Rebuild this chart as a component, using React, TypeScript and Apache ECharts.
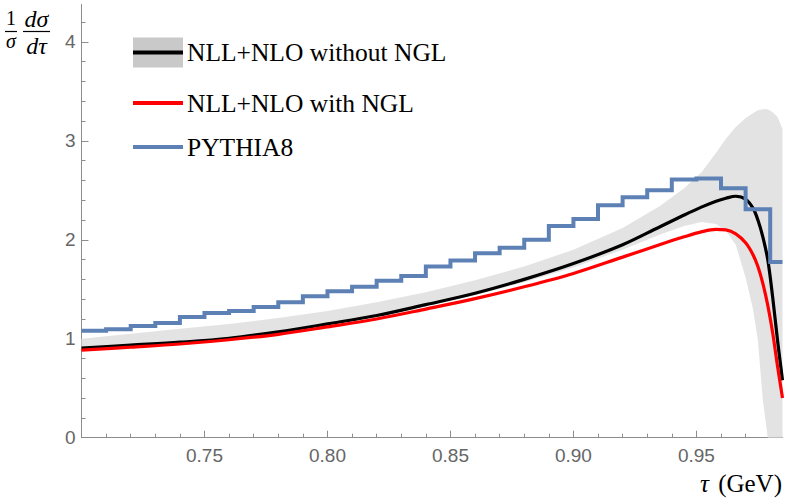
import React, { useEffect, useRef } from 'react';
import * as echarts from 'echarts';

// tau grid for the theory curves and the uncertainty band
const tau = [
  0.70, 0.72, 0.74, 0.76, 0.78, 0.80, 0.82, 0.84, 0.86, 0.88, 0.90, 0.92, 0.935,
  0.945, 0.952, 0.958, 0.962, 0.966, 0.970, 0.973, 0.975, 0.977, 0.979, 0.981, 0.983, 0.985,
];
// NLL+NLO without NGL (central, black)
const withoutNgl = [
  0.905, 0.935, 0.965, 1.005, 1.07, 1.15, 1.235, 1.345, 1.46, 1.60, 1.76, 1.95, 2.13,
  2.25, 2.33, 2.39, 2.42, 2.44, 2.41, 2.32, 2.20, 2.03, 1.80, 1.42, 0.98, 0.58,
];
// NLL+NLO with NGL (red)
const withNgl = [
  0.885, 0.915, 0.947, 0.99, 1.045, 1.12, 1.20, 1.30, 1.405, 1.525, 1.66, 1.825, 1.95,
  2.03, 2.08, 2.105, 2.10, 2.06, 1.97, 1.85, 1.73, 1.56, 1.34, 1.06, 0.72, 0.40,
];
// uncertainty band of NLL+NLO without NGL
const bandUpper = [
  1.00, 1.05, 1.10, 1.15, 1.21, 1.28, 1.37, 1.47, 1.59, 1.73, 1.90, 2.12, 2.34,
  2.52, 2.68, 2.88, 3.02, 3.14, 3.23, 3.28, 3.31, 3.32, 3.32, 3.29, 3.24, 3.12,
];
const bandLower = [
  0.89, 0.92, 0.955, 0.995, 1.06, 1.14, 1.22, 1.33, 1.44, 1.57, 1.72, 1.90, 2.05,
  2.14, 2.18, 2.16, 2.09, 1.95, 1.62, 1.30, 0.98, 0.38, 0, 0, 0, 0,
];
// PYTHIA8 histogram: bin starts and heights
const pythiaBinStart = [
  0.70, 0.71, 0.72, 0.73, 0.74, 0.75, 0.76, 0.77, 0.78, 0.79, 0.80, 0.81, 0.82, 0.83,
  0.84, 0.85, 0.86, 0.87, 0.88, 0.89, 0.90, 0.91, 0.92, 0.93, 0.94, 0.95, 0.96, 0.97, 0.98,
];
const pythiaValue = [
  1.08, 1.095, 1.13, 1.16, 1.22, 1.26, 1.28, 1.32, 1.37, 1.43, 1.48, 1.525, 1.585, 1.635,
  1.73, 1.79, 1.865, 1.92, 2.00, 2.14, 2.21, 2.35, 2.43, 2.50, 2.61, 2.62, 2.52, 2.31, 1.775,
];

const X_MIN = 0.70;
const X_MAX = 0.985;
const Y_MIN = 0;
const Y_MAX = 4.38;
const xTickValues = [0.70, 0.75, 0.80, 0.85, 0.90, 0.95];
const xLabelValues = [0.75, 0.80, 0.85, 0.90, 0.95];
const yTickValues = [0, 1, 2, 3, 4];
const legendLabels = ['NLL+NLO without NGL', 'NLL+NLO with NGL', 'PYTHIA8'];

const AXIS_COLOR = '#8c8c8c';
const LABEL_COLOR = '#666666';
const SERIF_FAMILY = '"Liberation Serif", "DejaVu Serif", serif';
const SERIF = SERIF_FAMILY;

export default function App() {
  const ref = useRef<HTMLDivElement>(null);

  useEffect(() => {
    if (!ref.current) return;
    const chart = echarts.init(ref.current, undefined, { renderer: 'svg' });

    const blackData = tau.map((t, i) => [t, withoutNgl[i]]);
    const redData = tau.map((t, i) => [t, withNgl[i]]);
    const histData = pythiaBinStart
      .map((t, i) => [t, pythiaValue[i]])
      .concat([[X_MAX, pythiaValue[pythiaValue.length - 1]]]);

    const option: any = {
      animation: false,
      backgroundColor: '#ffffff',
      grid: {
        left: 81.5,
        right: 2.5,
        top: 4.3,
        bottom: 66.3,
        containLabel: false,
        outerBoundsMode: 'none',
      },
      xAxis: {
        type: 'value',
        min: X_MIN,
        max: X_MAX,
        interval: 0.05,
        axisLine: { show: true, lineStyle: { color: AXIS_COLOR, width: 1 } },
        axisTick: {
          show: true,
          inside: true,
          length: 7,
          customValues: xTickValues,
          lineStyle: { color: AXIS_COLOR, width: 1 },
        },
        minorTick: { show: true, splitNumber: 5, length: 4, lineStyle: { color: AXIS_COLOR, width: 1 } },
        axisLabel: {
          customValues: xLabelValues,
          formatter: (v: number) => v.toFixed(2),
          color: LABEL_COLOR,
          fontSize: 19,
          fontFamily: '"Liberation Sans", Arial, sans-serif',
          margin: 8,
        },
        splitLine: { show: false },
        minorSplitLine: { show: false },
      },
      yAxis: {
        type: 'value',
        min: Y_MIN,
        max: Y_MAX,
        interval: 1,
        axisLine: { show: true, lineStyle: { color: AXIS_COLOR, width: 1 } },
        axisTick: {
          show: true,
          inside: true,
          length: 7,
          customValues: yTickValues,
          lineStyle: { color: AXIS_COLOR, width: 1 },
        },
        minorTick: { show: true, splitNumber: 5, length: 4, lineStyle: { color: AXIS_COLOR, width: 1 } },
        axisLabel: {
          customValues: yTickValues,
          formatter: (v: number) => String(Math.round(v)),
          color: LABEL_COLOR,
          fontSize: 19,
          fontFamily: '"Liberation Sans", Arial, sans-serif',
          margin: 6,
        },
        splitLine: { show: false },
        minorSplitLine: { show: false },
      },
      series: [
        {
          type: 'custom',
          name: 'band',
          silent: true,
          clip: true,
          z: 1,
          data: [[tau[0], bandUpper[0]]],
          renderItem: (_params: any, api: any) => {
            const pts: number[][] = [];
            for (let i = 0; i < tau.length; i++) pts.push(api.coord([tau[i], bandUpper[i]]));
            for (let i = tau.length - 1; i >= 0; i--) pts.push(api.coord([tau[i], bandLower[i]]));
            return {
              type: 'polygon',
              shape: { points: pts, smooth: 0 },
              style: { fill: '#e3e3e3', stroke: 'none' },
            };
          },
        },
        {
          type: 'line',
          name: legendLabels[0],
          data: blackData,
          showSymbol: false,
          smooth: 0.35,
          z: 3,
          lineStyle: { color: '#000000', width: 3.2 },
        },
        {
          type: 'line',
          name: legendLabels[1],
          data: redData,
          showSymbol: false,
          smooth: 0.35,
          z: 4,
          lineStyle: { color: '#ff0000', width: 3.2 },
        },
        {
          type: 'line',
          name: legendLabels[2],
          data: histData,
          step: 'end',
          showSymbol: false,
          z: 5,
          lineStyle: { color: '#5e81b5', width: 4, join: 'miter' },
        },
      ],
      graphic: [
        // y-axis title: (1/sigma) dsigma/dtau, each fraction as one two-line text
        {
          type: 'text',
          x: 11,
          y: 29.55,
          style: {
            text: '{n|1}\n{d|σ}',
            align: 'center',
            verticalAlign: 'middle',
            fill: '#000',
            rich: {
              n: { fontFamily: SERIF_FAMILY, fontSize: 20, lineHeight: 22.4, fill: '#000' },
              d: { fontFamily: SERIF_FAMILY, fontSize: 20, fontStyle: 'italic', lineHeight: 22.4, fill: '#000' },
            },
          },
        },
        { type: 'line', shape: { x1: 5, y1: 31.5, x2: 17, y2: 31.5 }, style: { stroke: '#000', lineWidth: 1.2 } },
        {
          type: 'text',
          x: 36.5,
          y: 32.7,
          style: {
            text: '{d|dσ}\n{d|dτ}',
            align: 'center',
            verticalAlign: 'middle',
            fill: '#000',
            rich: {
              d: { fontFamily: SERIF_FAMILY, fontSize: 24, fontStyle: 'italic', lineHeight: 27, fill: '#000' },
            },
          },
        },
        { type: 'line', shape: { x1: 23, y1: 31.5, x2: 50, y2: 31.5 }, style: { stroke: '#000', lineWidth: 1.2 } },
        // legend
        { type: 'rect', shape: { x: 133, y: 37.5, width: 50, height: 30 }, style: { fill: '#c9c9c9' } },
        { type: 'line', shape: { x1: 133, y1: 52.5, x2: 183, y2: 52.5 }, style: { stroke: '#000', lineWidth: 4 } },
        { type: 'text', x: 187, y: 52.5, style: { text: legendLabels[0], font: `25.5px ${SERIF}`, fill: '#000', align: 'left', verticalAlign: 'middle' } },
        { type: 'line', shape: { x1: 133, y1: 103, x2: 183, y2: 103 }, style: { stroke: '#ff0000', lineWidth: 4 } },
        { type: 'text', x: 187, y: 103, style: { text: legendLabels[1], font: `25.5px ${SERIF}`, fill: '#000', align: 'left', verticalAlign: 'middle' } },
        { type: 'line', shape: { x1: 133, y1: 147, x2: 183, y2: 147 }, style: { stroke: '#5e81b5', lineWidth: 4 } },
        { type: 'text', x: 187, y: 147.5, style: { text: legendLabels[2], font: `25.5px ${SERIF}`, fill: '#000', align: 'left', verticalAlign: 'middle' } },
        // x-axis title
        { type: 'text', x: 700, y: 483, style: { text: 'τ', font: `italic 25px ${SERIF}`, fill: '#000', align: 'left', verticalAlign: 'middle' } },
        { type: 'text', x: 782, y: 483, style: { text: '(GeV)', font: `25px ${SERIF}`, fill: '#000', align: 'right', verticalAlign: 'middle' } },
      ],
    };

    chart.setOption(option);
    return () => chart.dispose();
  }, []);

  return (
    <div
      ref={ref}
      style={{ position: 'fixed', left: 0, top: 0, width: 785, height: 504, background: '#fff' }}
    />
  );
}
